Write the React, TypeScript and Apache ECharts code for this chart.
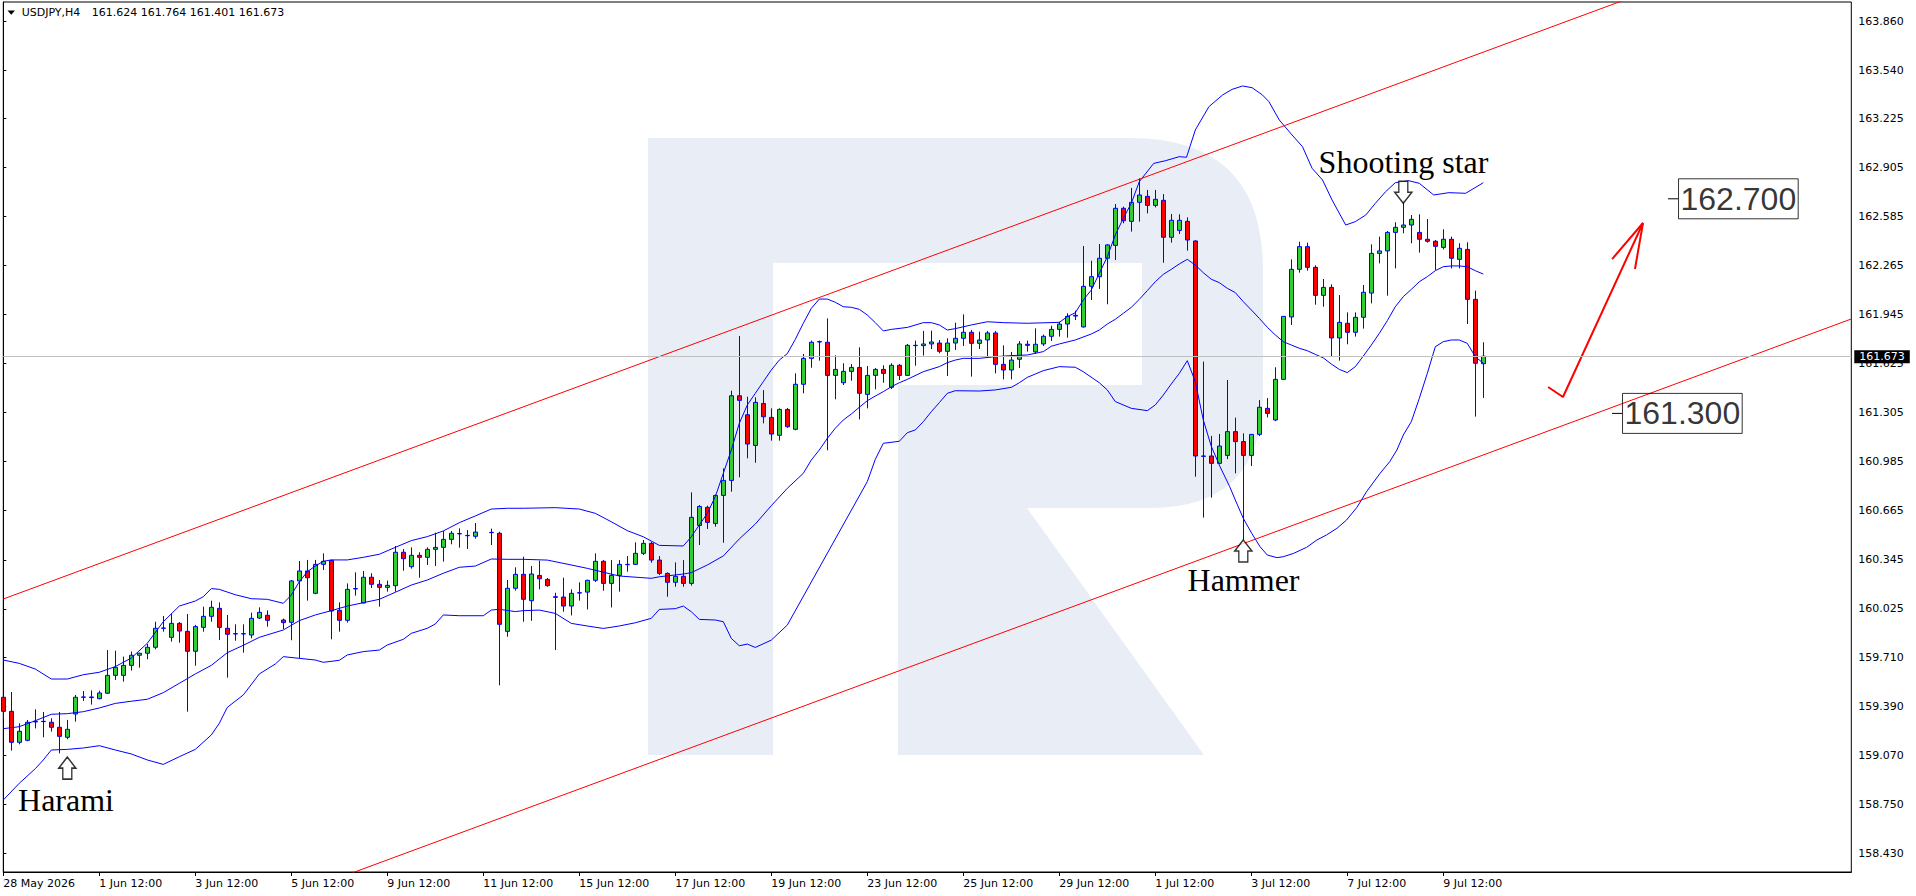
import React, { useEffect, useRef } from "react";
import * as echarts from "echarts";

// ---------- DATA ----------
const dateLabels = [
  "28 May 2026", "1 Jun 12:00", "3 Jun 12:00", "5 Jun 12:00", "9 Jun 12:00", "11 Jun 12:00",
  "15 Jun 12:00", "17 Jun 12:00", "19 Jun 12:00", "23 Jun 12:00", "25 Jun 12:00", "29 Jun 12:00",
  "1 Jul 12:00", "3 Jul 12:00", "7 Jul 12:00", "9 Jul 12:00",
];

const yTicks = [158.43, 158.75, 159.07, 159.39, 159.71, 160.025, 160.345, 160.665, 160.985, 161.305,
  161.625, 161.945, 162.265, 162.585, 162.905, 163.225, 163.54, 163.86];

const opens = [159.448,159.356,159.154,159.167,159.287,159.291,159.285,159.252,159.187,159.339,
159.448,159.450,159.439,159.474,159.591,159.591,159.656,159.722,159.735,159.774,
159.898,159.839,159.930,159.878,159.748,159.904,159.976,160.028,159.898,159.861,
159.863,159.854,159.965,159.983,null,159.952,159.937,160.207,160.272,160.126,
160.315,160.341,160.015,159.950,160.155,160.063,160.231,160.185,160.165,160.176,
160.394,160.300,160.374,160.361,160.413,160.426,160.478,160.516,160.504,160.498,
null,160.524,160.518,159.878,160.159,160.250,160.078,160.243,160.217,160.104,
160.102,160.043,160.128,160.134,160.211,160.335,160.191,160.243,160.313,160.315,
160.387,160.452,160.343,160.256,160.198,160.237,160.191,160.569,160.687,160.582,
160.765,160.863,161.415,161.291,161.091,161.365,161.274,161.157,161.326,161.196,
161.490,161.659,161.766,161.764,161.548,161.500,161.574,161.600,161.424,161.548,
161.587,161.470,161.614,161.548,161.742,161.742,161.753,161.759,161.705,161.759,
161.790,161.829,161.757,161.779,161.825,161.620,161.583,161.653,161.751,161.701,
161.753,161.803,161.848,161.883,161.935,161.864,162.129,162.192,162.312,162.396,
162.638,162.553,162.677,162.716,162.657,162.690,162.449,162.494,162.553,162.425,
161.020,161.022,160.974,161.026,161.181,161.116,161.026,161.163,161.333,161.257,
161.522,161.929,162.240,162.388,162.253,162.070,162.122,161.792,161.888,161.829,
161.927,162.085,162.344,162.360,162.481,162.514,162.529,162.481,162.436,162.423,
162.383,162.436,162.305,162.370,162.044,161.624];

const highs = [159.456,159.482,159.278,159.300,159.369,159.352,159.311,159.352,159.300,159.463,
159.489,159.493,159.491,159.756,159.752,159.713,159.746,159.739,159.796,159.941,
159.978,159.991,159.939,159.991,159.920,160.039,160.078,160.067,159.985,159.924,
159.924,160.000,160.035,160.015,null,159.961,160.213,160.337,160.344,160.344,
160.387,160.345,160.067,160.191,160.263,160.272,160.257,160.213,160.209,160.435,
160.415,160.426,160.394,160.426,160.522,160.533,160.533,160.550,160.539,160.585,
null,160.548,160.528,160.213,160.296,160.365,160.304,160.339,160.226,160.130,
160.228,160.152,160.198,160.215,160.387,160.343,160.343,160.343,160.369,160.459,
160.474,160.463,160.369,160.263,160.328,160.343,160.785,160.702,160.698,160.770,
160.941,161.448,161.805,161.409,161.405,161.452,161.333,161.333,161.335,161.561,
161.688,161.775,161.775,161.920,161.679,161.627,161.622,161.731,161.609,161.596,
161.614,161.627,161.622,161.753,161.775,161.838,161.840,161.779,161.790,161.892,
161.946,161.844,161.833,161.838,161.838,161.744,161.701,161.772,161.775,161.855,
161.814,161.872,161.898,161.953,161.970,162.392,162.296,162.405,162.405,162.666,
162.649,162.771,162.834,162.758,162.758,162.731,162.601,162.599,162.579,162.430,
161.638,161.153,161.166,161.518,161.272,161.170,161.166,161.387,161.400,161.601,
161.935,162.305,162.420,162.414,162.266,162.177,162.142,162.072,161.959,161.959,
162.138,162.403,162.453,162.490,162.547,162.692,162.594,162.599,162.568,162.431,
162.501,162.453,162.410,162.416,162.101,161.764];

const lows = [159.304,159.100,159.141,159.161,159.245,159.187,159.224,159.082,159.174,159.289,
159.424,159.400,159.435,159.469,159.561,159.550,159.622,159.641,159.696,159.761,
159.876,159.811,159.804,159.354,159.654,159.876,159.941,159.822,159.576,159.817,
159.739,159.833,159.959,159.909,null,159.893,159.820,159.702,160.078,160.120,
160.278,159.826,159.876,159.935,160.111,160.061,160.161,160.039,160.137,160.137,
160.274,160.287,160.228,160.311,160.304,160.333,160.446,160.424,160.415,160.483,
null,160.441,159.526,159.843,160.144,159.941,159.947,160.152,160.169,159.756,
160.006,159.982,160.078,160.021,160.200,160.143,160.034,160.137,160.267,160.311,
160.376,160.326,160.245,160.104,160.169,160.169,160.176,160.441,160.546,160.561,
160.456,160.789,160.883,161.007,160.978,161.235,161.122,161.122,161.205,161.190,
161.431,161.598,161.644,161.059,161.392,161.485,161.513,161.261,161.333,161.457,
161.500,161.459,161.518,161.544,161.611,161.677,161.720,161.692,161.544,161.714,
161.740,161.540,161.720,161.666,161.561,161.522,161.522,161.596,161.703,161.690,
161.740,161.772,161.801,161.794,161.909,161.860,162.040,162.112,162.012,162.301,
162.540,162.486,162.551,162.605,162.644,162.283,162.414,162.470,162.362,160.887,
160.620,160.750,160.970,161.002,160.909,160.474,160.957,161.152,161.274,161.250,
161.518,161.877,162.218,162.231,162.009,161.996,161.670,161.644,161.751,161.801,
161.853,162.018,162.279,162.068,162.246,162.475,162.410,162.349,162.414,162.236,
162.370,162.246,162.246,161.883,161.279,161.401];

const closes = [159.356,159.154,159.226,159.285,159.291,159.289,159.252,159.193,159.239,159.448,
159.450,159.446,159.476,159.591,159.643,159.656,159.722,159.735,159.774,159.898,
159.900,159.930,159.880,159.748,159.909,159.976,160.035,159.904,159.859,159.863,
159.861,159.963,160.002,159.950,null,159.935,160.207,160.272,160.228,160.315,
160.335,160.011,159.950,160.152,160.157,160.231,160.185,160.165,160.178,160.394,
160.352,160.374,160.361,160.413,160.426,160.478,160.518,160.514,160.502,160.526,
null,160.522,159.924,160.159,160.250,160.087,160.252,160.221,160.176,160.100,
160.043,160.126,160.130,160.211,160.335,160.191,160.243,160.315,160.315,160.387,
160.452,160.343,160.256,160.198,160.237,160.191,160.622,160.693,160.589,160.765,
160.863,161.415,161.385,161.100,161.372,161.278,161.165,161.326,161.213,161.490,
161.659,161.764,161.768,161.548,161.587,161.574,161.600,161.431,161.548,161.587,
161.561,161.614,161.548,161.744,161.744,161.753,161.766,161.705,161.759,161.790,
161.829,161.757,161.779,161.825,161.620,161.583,161.648,161.753,161.744,161.751,
161.803,161.848,161.883,161.933,161.940,162.129,162.192,162.312,162.399,162.638,
162.557,162.677,162.725,162.657,162.697,162.449,162.560,162.560,162.431,161.022,
161.022,160.974,161.087,161.181,161.116,161.026,161.163,161.340,161.300,161.522,
161.933,162.240,162.388,162.253,162.070,162.122,161.792,161.894,161.829,161.927,
162.090,162.344,162.360,162.481,162.514,162.529,162.566,162.436,162.423,162.390,
162.436,162.312,162.377,162.044,161.627,161.673];

// Bollinger bands: [bar index, price]
const bandUpper = [[0,159.691],[2,159.669],[4,159.632],[6,159.567],[8,159.567],[10,159.595],[12,159.611],[14,159.648],[16,159.704],[18,159.8],[20,159.941],[22,160.043],[24,160.076],[25,160.104],[26,160.157],[27,160.152],[29,160.117],[31,160.091],[33,160.087],[35,160.061],[36,160.115],[37,160.202],[38,160.267],[39,160.304],[40,160.335],[41,160.344],[43,160.344],[45,160.361],[47,160.381],[49,160.426],[51,160.47],[53,160.496],[55,160.533],[57,160.587],[59,160.631],[61,160.676],[63,160.681],[65,160.681],[69,160.685],[72,160.676],[74,160.648],[76,160.593],[78,160.535],[80,160.495],[81,160.467],[82,160.439],[85,160.435],[86,160.495],[87,160.572],[88,160.648],[89,160.757],[90,160.909],[91,161.061],[92,161.235],[93,161.355],[94,161.431],[95,161.507],[96,161.583],[97,161.648],[98,161.69],[99,161.783],[100,161.888],[101,161.985],[102,162.046],[103,162.046],[104,162.025],[105,161.996],[106,161.992],[107,161.979],[108,161.942],[109,161.892],[110,161.838],[111,161.848],[113,161.861],[115,161.892],[116,161.892],[117,161.877],[118,161.844],[119,161.853],[121,161.877],[123,161.898],[125,161.892],[128,161.888],[132,161.894],[133,161.931],[134,161.957],[135,162.04],[136,162.105],[137,162.214],[138,162.322],[139,162.464],[140,162.573],[141,162.671],[142,162.812],[143.8,162.931],[145.3,162.949],[147,162.975],[147.9,162.971],[149,163.149],[150.7,163.301],[152.4,163.377],[153.6,163.414],[154.9,163.436],[156.1,163.425],[157.4,163.377],[158.2,163.334],[159.5,163.214],[161.1,163.116],[162.4,163.04],[163.6,162.899],[164.9,162.823],[166.1,162.692],[167.8,162.529],[169,162.551],[170.3,162.594],[171.5,162.67],[172.8,162.747],[174,162.805],[175.7,162.818],[177,162.801],[178.8,162.725],[180.7,162.74],[182.8,162.736],[185,162.805]];

const bandMiddle = [[0,159.243],[2,159.256],[4,159.295],[6,159.337],[8,159.341],[10,159.354],[12,159.378],[14,159.408],[16,159.422],[18,159.435],[20,159.478],[22,159.539],[24,159.6],[26,159.656],[28,159.739],[30,159.787],[32,159.839],[35,159.887],[37,159.948],[39,159.985],[41,160.013],[43,160.043],[45,160.065],[47,160.087],[49,160.133],[51,160.18],[53,160.213],[55,160.257],[57,160.296],[59,160.304],[61,160.35],[63,160.348],[65,160.348],[68,160.343],[71,160.311],[73,160.289],[77,160.239],[81,160.224],[82,160.234],[85,160.252],[86,160.261],[88,160.311],[90,160.37],[92,160.481],[94,160.578],[96,160.698],[98,160.811],[100,160.909],[101,160.996],[102,161.061],[103,161.137],[104,161.203],[105,161.257],[106,161.296],[107,161.34],[108,161.383],[109,161.413],[110,161.442],[111,161.474],[112,161.5],[113,161.522],[115,161.572],[117,161.605],[118,161.631],[119,161.648],[120,161.659],[122,161.659],[124,161.67],[126,161.677],[128,161.681],[130,161.703],[131,161.738],[132,161.753],[134,161.779],[136,161.818],[137,161.844],[138,161.883],[139,161.914],[140,161.953],[141,161.992],[142,162.044],[143,162.101],[144,162.159],[145,162.207],[146,162.24],[147,162.275],[148,162.305],[149,162.268],[150,162.218],[151,162.175],[152,162.153],[153,162.116],[154,162.088],[155,162.029],[156,161.975],[157,161.92],[158,161.862],[159,161.812],[160,161.768],[161,161.746],[162,161.725],[163,161.709],[164,161.685],[165,161.662],[166,161.622],[167,161.587],[168,161.566],[169,161.605],[170,161.674],[171,161.746],[172,161.822],[173,161.905],[174,161.996],[175,162.062],[176,162.109],[177,162.159],[178,162.192],[179,162.231],[180,162.257],[181,162.262],[182,162.262],[183,162.257],[184,162.231],[185,162.209]];

const bandLower = [[0,158.778],[2,158.887],[4,158.982],[5,159.039],[6,159.104],[8,159.108],[10,159.117],[12,159.132],[14,159.104],[16,159.078],[18,159.039],[20,159.01],[22,159.06],[24,159.108],[26,159.202],[27,159.278],[28,159.382],[30,159.463],[32,159.6],[34,159.665],[35,159.713],[37,159.702],[39,159.691],[40,159.676],[42,159.689],[43,159.724],[45,159.746],[47,159.756],[48,159.789],[50,159.826],[51,159.865],[53,159.898],[54,159.926],[55,159.985],[57,159.98],[60,159.98],[61,160.017],[62,160.022],[64,160.007],[65,160.013],[67,160.017],[69,159.995],[71,159.93],[73,159.913],[75,159.897],[77,159.913],[79,159.934],[81,159.963],[82,160.021],[84,160.026],[85,160.043],[86,160.006],[87,159.956],[89,159.952],[90,159.941],[91,159.832],[92,159.784],[93,159.795],[94,159.773],[96,159.821],[98,159.919],[108,160.855],[109,161.0],[110,161.105],[112,161.118],[113,161.174],[114,161.192],[115,161.246],[116,161.311],[117,161.37],[118,161.431],[119,161.448],[122,161.446],[124,161.453],[126,161.47],[127,161.5],[128,161.535],[129,161.557],[130,161.579],[132,161.605],[134,161.601],[135,161.572],[137,161.5],[138,161.453],[139,161.377],[141,161.333],[143,161.318],[144,161.355],[145,161.42],[146,161.492],[147,161.561],[148,161.644],[149,161.507],[150,161.257],[151,161.085],[152.1,160.952],[153.3,160.822],[154,160.735],[155,160.615],[156.05,160.518],[157.1,160.43],[158,160.376],[159.2,160.359],[160,160.365],[161.3,160.387],[162.9,160.426],[164.2,160.474],[165.4,160.507],[166.7,160.55],[167.9,160.604],[169.2,160.687],[170.4,160.789],[172.1,160.909],[173.3,160.985],[174.2,161.061],[175,161.159],[176,161.246],[177,161.398],[178,161.561],[179,161.735],[180,161.768],[181,161.779],[182,161.779],[183,161.757],[184,161.67],[185,161.627]];

// Trend channel (two parallel red lines)
const channelUpper = [[0, 160.089], [231, 164.544]];
const channelLower = [[0, 157.461], [231, 161.916]];

// Forecast arrow
const arrowShaft = [[193.1, 161.472], [194.96, 161.407], [204.96, 162.542]];
const arrowHead = [[201.1, 162.307], [204.96, 162.542], [203.96, 162.242]];

// Target price labels
const priceLevels = [
  { at: 209.34, tick: 208.09, price: 162.7, text: "162.700" },
  { at: 202.34, tick: 201.09, price: 161.3, text: "161.300" },
];

// Pattern markers
const patterns = [
  { name: "Harami", bar: 8, price: 159.058, dir: "up" },
  { name: "Hammer", bar: 155, price: 160.474, dir: "up" },
  { name: "Shooting star", bar: 175, price: 162.671, dir: "down" },
];

const currentPrice = 161.673;
const header = "USDJPY,H4";
const headerValues = "161.624 161.764 161.401 161.673";

// ---------- helpers ----------
const N_SLOTS = 232;
const categories = Array.from({ length: N_SLOTS }, (_, i) =>
  i % 12 === 0 && i / 12 < dateLabels.length ? dateLabels[i / 12] : "b" + i
);
const labelInterval = (index: number) => index % 12 === 0 && index / 12 < dateLabels.length;

const candleData = opens.map((o, i) =>
  o == null ? ["-", "-", "-", "-"] : [o, closes[i], lows[i], highs[i]]
);

const UP_ARROW = "path://M8.5,0 L17,11 L13,11 L13,22 L4,22 L4,11 L0,11 Z";
const DOWN_ARROW = "path://M4,0 L13,0 L13,11 L17,11 L8.5,22 L0,11 L4,11 Z";

const LOGO_D =
  "M648 138 L1130 138 Q1263 138 1263 270 L1263 393 Q1263 508 1150 508 L1027 508 L1204 755 L898 755 L898 385 L1142 385 L1142 263 L773 263 L773 755 L648 755 Z";
echarts.graphic.registerShape("rlogo", echarts.graphic.extendPath(LOGO_D, {}) as any);

const AX_FONT = "DejaVu Sans";

function buildOption(): any {
  const lineBase = {
    type: "line",
    xAxisIndex: 1,
    yAxisIndex: 0,
    symbol: "none",
    showSymbol: false,
    silent: true,
  };
  const series: any[] = [
    {
      type: "candlestick",
      xAxisIndex: 0,
      yAxisIndex: 0,
      data: candleData,
      barWidth: 4,
      itemStyle: {
        color: "#32cd32",
        color0: "#ff0000",
        borderColor: "#0000ff",
        borderColor0: "#0000ff",
        borderColorDoji: "#0000ff",
        borderWidth: 1,
      },
      markLine: {
        silent: true,
        symbol: ["none", "none"],
        data: [{ yAxis: currentPrice }],
        lineStyle: { color: "#c0c0c0", type: "solid", width: 1 },
        label: {
          show: true,
          position: "end",
          distance: 3,
          formatter: currentPrice.toFixed(3),
          backgroundColor: "#000",
          color: "#fff",
          fontFamily: AX_FONT,
          fontSize: 11,
          lineHeight: 13,
          padding: [0, 5, 0, 5],
        },
      },
    },
    { ...lineBase, data: bandUpper, lineStyle: { color: "#0000ff", width: 1 } },
    { ...lineBase, data: bandMiddle, lineStyle: { color: "#0000ff", width: 1 } },
    { ...lineBase, data: bandLower, lineStyle: { color: "#0000ff", width: 1 } },
    { ...lineBase, data: channelUpper, lineStyle: { color: "#ff0000", width: 1 } },
    { ...lineBase, data: channelLower, lineStyle: { color: "#ff0000", width: 1 } },
    { ...lineBase, data: arrowShaft, lineStyle: { color: "#ff0000", width: 2 } },
    { ...lineBase, data: arrowHead, lineStyle: { color: "#ff0000", width: 2 } },
  ];
  priceLevels.forEach((p) => {
    series.push({
      ...lineBase,
      data: [[p.tick, p.price], [p.at, p.price]],
      lineStyle: { color: "#000", width: 1 },
    });
  });
  series.push({
    type: "scatter",
    xAxisIndex: 1,
    yAxisIndex: 0,
    silent: true,
    symbol: "circle",
    symbolSize: 1,
    itemStyle: { color: "rgba(0,0,0,0)" },
    z: 6,
    data: priceLevels.map((p) => ({
      value: [p.at, p.price],
      label: {
        show: true,
        position: "right",
        distance: 0,
        formatter: p.text,
        fontFamily: "Liberation Sans",
        fontSize: 32,
        lineHeight: 34,
        color: "#000",
        borderColor: "#000",
        borderWidth: 1,
        padding: [3, 2, 3, 2],
      },
    })),
  });
  series.push({
    type: "scatter",
    xAxisIndex: 1,
    yAxisIndex: 0,
    silent: true,
    data: patterns.map((p) => ({
      value: [p.bar, p.price],
      symbol: p.dir === "up" ? UP_ARROW : DOWN_ARROW,
      symbolSize: [17, 22],
      symbolOffset: [0, p.dir === "up" ? 11 : -11],
      itemStyle: { color: "#ffffff", borderColor: "#000", borderWidth: 1.5 },
    })),
    z: 5,
  });

  return {
    animation: false,
    backgroundColor: "#ffffff",
    textStyle: { fontFamily: AX_FONT },
    grid: {
      left: 3.3,
      right: 64.7,
      top: 2,
      bottom: 24,
      show: true,
      borderColor: "#000",
      borderWidth: 1,
      backgroundColor: "transparent",
    },
    xAxis: [
      {
        type: "category",
        data: categories,
        boundaryGap: false,
        axisLine: { show: true, lineStyle: { color: "#000", width: 1 } },
        axisTick: { show: true, interval: labelInterval, length: 4, lineStyle: { color: "#000" } },
        axisLabel: {
          show: true,
          interval: labelInterval,
          align: "left",
          margin: 6,
          color: "#000",
          fontFamily: AX_FONT,
          fontSize: 11,
        },
        splitLine: { show: false },
      },
      { type: "value", min: 0, max: N_SLOTS - 1, show: false },
    ],
    yAxis: {
      type: "value",
      position: "right",
      min: 158.308,
      max: 163.984,
      axisLine: { show: true, lineStyle: { color: "#000", width: 1 } },
      axisTick: { show: true, length: 3, customValues: yTicks, lineStyle: { color: "#000" } },
      axisLabel: {
        show: true,
        customValues: yTicks,
        formatter: (v: number) => v.toFixed(3),
        margin: 7,
        color: "#000",
        fontFamily: AX_FONT,
        fontSize: 11,
      },
      splitLine: { show: false },
    },
    graphic: [
      {
        type: "rlogo",
        x: 0,
        y: 0,
        z: -10,
        silent: true,
        style: { fill: "#e9eef6" },
      },
      {
        type: "polygon",
        z: 10,
        silent: true,
        shape: { points: [[7.5, 10.5], [15, 10.5], [11.25, 14.8]] },
        style: { fill: "#000" },
      },
      {
        type: "text",
        x: 21.7,
        y: 12.7,
        z: 10,
        silent: true,
        style: { text: header, fill: "#000", font: "11px 'DejaVu Sans'", verticalAlign: "middle" },
      },
      {
        type: "text",
        x: 91.7,
        y: 12.7,
        z: 10,
        silent: true,
        style: { text: headerValues, fill: "#000", font: "11px 'DejaVu Sans'", verticalAlign: "middle" },
      },
      {
        type: "text",
        x: 66,
        y: 800,
        z: 10,
        silent: true,
        style: { text: patterns[0].name, fill: "#000", font: "32px 'Liberation Serif'", align: "center", verticalAlign: "middle" },
      },
      {
        type: "text",
        x: 1243.5,
        y: 580,
        z: 10,
        silent: true,
        style: { text: patterns[1].name, fill: "#000", font: "32px 'Liberation Serif'", align: "center", verticalAlign: "middle" },
      },
      {
        type: "text",
        x: 1403.5,
        y: 162,
        z: 10,
        silent: true,
        style: { text: patterns[2].name, fill: "#000", font: "32px 'Liberation Serif'", align: "center", verticalAlign: "middle" },
      },
    ],
    series,
  };
}

export default function App() {
  const ref = useRef<HTMLDivElement>(null);
  useEffect(() => {
    document.body.style.margin = "0";
    if (!ref.current) return;
    const chart = echarts.init(ref.current, null, { renderer: "svg" });
    chart.setOption(buildOption());
    return () => {
      chart.dispose();
    };
  }, []);
  return <div ref={ref} style={{ width: 1916, height: 896, background: "#fff" }} />;
}
